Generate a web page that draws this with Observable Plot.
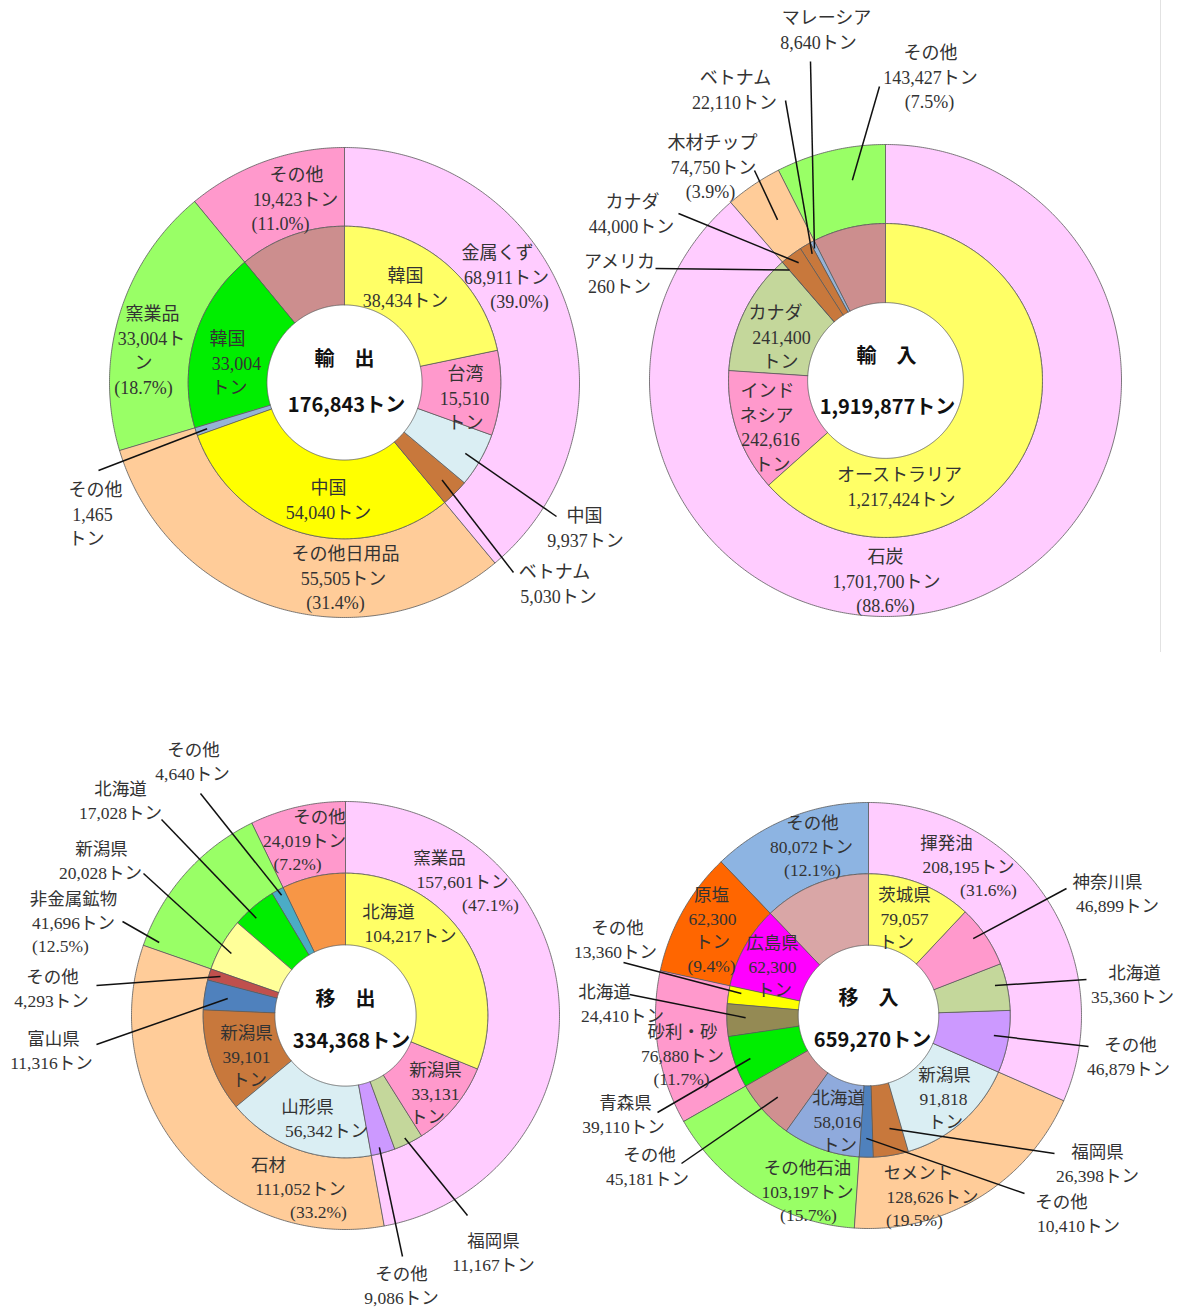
<!DOCTYPE html>
<html lang="ja">
<head>
<meta charset="utf-8">
<title>輸出・輸入・移出・移入</title>
<script src="https://cdn.jsdelivr.net/npm/d3@7"></script>
<script src="https://cdn.jsdelivr.net/npm/@observablehq/plot@0.6"></script>
<style>
  html, body { margin: 0; padding: 0; background: #fff; }
  #page { position: relative; width: 1182px; height: 1310px; overflow: hidden; background: #fff; }
  #page > svg { position: absolute; left: 0; top: 0; }
  #edge { position: absolute; left: 1160px; top: 0; width: 0; height: 652px; border-left: 1px solid #e2e2e2; }
</style>
</head>
<body>
<div id="page"><div id="edge"></div></div>
<script>
// ================= DATA =================
// 輸出
const exportTitle = "輸　出";
const exportTotal = 176843;
const exportGoods = ["金属くず", "その他日用品", "窯業品", "その他"];
const exportGoodsTons = [68911, 55505, 33004, 19423];
const exportGoodsShare = ["39.0%", "31.4%", "18.7%", "11.0%"];
const exportDest = ["韓国", "台湾", "中国", "ベトナム", "中国", "その他", "韓国", "その他"];
const exportDestTons = [38434, 15510, 9937, 5030, 54040, 1465, 33004, 19423];

// 輸入
const importTitle = "輸　入";
const importTotal = 1919877;
const importGoods = ["石炭", "木材チップ", "その他"];
const importGoodsTons = [1701700, 74750, 143427];
const importGoodsShare = ["88.6%", "3.9%", "7.5%"];
const importOrigin = ["オーストラリア", "インドネシア", "カナダ", "アメリカ", "カナダ", "ベトナム", "マレーシア", "その他"];
const importOriginTons = [1217424, 242616, 241400, 260, 44000, 22110, 8640, 143427];

// 移出
const outTitle = "移　出";
const outTotal = 334368;
const outGoods = ["窯業品", "石材", "非金属鉱物", "その他"];
const outGoodsTons = [157601, 111052, 41696, 24019];
const outGoodsShare = ["47.1%", "33.2%", "12.5%", "7.2%"];
const outDest = ["北海道", "新潟県", "福岡県", "その他", "山形県", "新潟県", "富山県", "その他", "新潟県", "北海道", "その他", "その他"];
const outDestTons = [104217, 33131, 11167, 9086, 56342, 39101, 11316, 4293, 20028, 17028, 4640, 24019];

// 移入
const inTitle = "移　入";
const inTotal = 659270;
const inGoods = ["揮発油", "セメント", "その他石油", "砂利・砂", "原塩", "その他"];
const inGoodsTons = [208195, 128626, 103197, 76880, 62300, 80072];
const inGoodsShare = ["31.6%", "19.5%", "15.7%", "11.7%", "9.4%", "12.1%"];
const inOrigin = ["茨城県", "神奈川県", "北海道", "その他", "新潟県", "福岡県", "その他", "北海道", "その他", "青森県", "北海道", "その他", "広島県", "その他"];
const inOriginTons = [79057, 46899, 35360, 46879, 91818, 26398, 10410, 58016, 45181, 39110, 24410, 13360, 62300, 80072];

// ================= STYLE =================
const exportGoodsColors = ["#FFCCFF", "#FFCC99", "#99FF66", "#FF99CC"];
const exportDestColors = ["#FFFF66", "#FF99CC", "#DAEEF3", "#C8783C", "#FFFF00", "#95B3D7", "#00EE00", "#CC8E8E"];
const importGoodsColors = ["#FFCCFF", "#FFCC99", "#99FF66"];
const importOriginColors = ["#FFFF66", "#FF99CC", "#C4D79B", "#C8783C", "#C8783C", "#C8783C", "#95B3D7", "#CC8E8E"];
const outGoodsColors = ["#FFCCFF", "#FFCC99", "#99FF66", "#FF99CC"];
const outDestColors = ["#FFFF66", "#FF99CC", "#C4D79B", "#CC99FF", "#DAEEF3", "#C8783C", "#4F81BD", "#C0504D", "#FFFF99", "#00EE00", "#4BACC6", "#F79646"];
const inGoodsColors = ["#FFCCFF", "#FFCC99", "#99FF66", "#FF99CC", "#FF6600", "#8DB4E2"];
const inOriginColors = ["#FFFF66", "#FF99CC", "#C4D79B", "#CC99FF", "#DAEEF3", "#C8783C", "#4F81BD", "#8FAADC", "#D09090", "#00EE00", "#948A54", "#FFFF00", "#FF00FF", "#D9A6A6"];

const PAGE_W = 1182, PAGE_H = 1310;
const RING = {hole: 0.33, mid: 0.665, outer: 1};
const UNIT = "トン";
const fmt = d3.format(",");
const LABEL_FONT = "'Liberation Serif', 'Noto Sans CJK JP', serif";
const TITLE_FONT = "'Noto Sans CJK JP', 'Noto Sans', sans-serif";

// ================= LAYOUT (pixel offsets from each donut centre) =================
const exportLayout = {
  cx: 344, cy: 382, R: 235, lh: 24.5, fs: 18, title: [-23, 23], titleX: [0, 2],
  labels: [
    {seg: "o0", fmt: "n|t|p", y: -129, x: [153, 162, 175]},
    {seg: "o1", fmt: "n|t|p", y: 172, x: [1, -1, -9]},
    {seg: "o2", fmt: "n|t-|u-|p", y: -68, x: [-192, -193, -201, -201]},
    {seg: "o3", fmt: "n|t|p", y: -207, x: [-48, -49, -64]},
    {seg: "i0", fmt: "n|t", y: -106, x: [61, 61]},
    {seg: "i1", fmt: "n|v|u", y: -8, x: [121, 120, 121]},
    {seg: "i2", fmt: "n|t", y: 134, x: [240, 241], from: [212, 134], to: {r: 0.596, a: 120.4}},
    {seg: "i3", fmt: "n|t", y: 190, x: [210, 214], from: [169, 190], to: {r: 0.587, a: 135}},
    {seg: "i4", fmt: "n|t", y: 106, x: [-16, -16]},
    {seg: "i5", fmt: "n|v|u", y: 108, x: [-249, -252, -258], from: [-246, 88], to: {r: 0.617, a: 251.4}},
    {seg: "i6", fmt: "n|v|u", y: -43, x: [-117, -108, -115]}
  ]
};
const importLayout = {
  cx: 885, cy: 380, R: 236, lh: 24.5, fs: 18, title: [-24, 27], titleX: [1, 2],
  labels: [
    {seg: "o0", fmt: "n|t|p", y: 177, x: [0, 1, 0]},
    {seg: "o1", fmt: "n|t|p", y: -237, x: [-173, -172, -175], from: [-131, -210], to: {r: 0.82, a: 326.1}},
    {seg: "o2", fmt: "n|t|p", y: -327, x: [45, 45, 44], from: [-6, -294], to: {r: 0.86, a: 350.6}},
    {seg: "i0", fmt: "n|t", y: 95, x: [14, 16]},
    {seg: "i1", fmt: "n<3|n>3|v|u", y: 11, x: [-118, -119, -115, -113]},
    {seg: "i2", fmt: "n|v|u", y: -67, x: [-110, -104, -105]},
    {seg: "i3", fmt: "n|t", y: -118, x: [-266, -266], from: [-230, -112], to: {r: 0.62, a: 319}},
    {seg: "i4", fmt: "n|t", y: -178, x: [-253, -254], from: [-207, -167], to: {r: 0.62, a: 323.6}},
    {seg: "i5", fmt: "n|t", y: -302, x: [-150, -151], from: [-100, -280], to: {r: 0.62, a: 329.9}},
    {seg: "i6", fmt: "n|t", y: -362, x: [-59, -67], from: [-75, -319], to: {r: 0.635, a: 331.7}}
  ]
};
const outLayout = {
  cx: 345, cy: 1015, R: 214, lh: 23.5, fs: 17.5, title: [-16, 26], titleX: [0, 6],
  labels: [
    {seg: "o0", fmt: "n|t|p", y: -157, x: [94, 117, 145]},
    {seg: "o1", fmt: "n|t|p", y: 150, x: [-77, -45, -27]},
    {seg: "o2", fmt: "n|t|p", y: -116, x: [-272, -272, -285], from: [-223, -94], to: {r: 0.935, a: 291.4}},
    {seg: "o3", fmt: "n|t|p", y: -198, x: [-26, -41, -48]},
    {seg: "i0", fmt: "n|t", y: -103, x: [43, 65]},
    {seg: "i1", fmt: "n|v|u", y: 55, x: [90, 90, 82]},
    {seg: "i2", fmt: "n|t", y: 226, x: [148, 148], from: [122, 200], to: {r: 0.636, a: 154.2}},
    {seg: "i3", fmt: "n|t", y: 259, x: [56, 56], from: [57, 241], to: {r: 0.636, a: 165.6}},
    {seg: "i4", fmt: "n|t", y: 92, x: [-38, -19]},
    {seg: "i5", fmt: "n|v|u", y: 18, x: [-99, -99, -96]},
    {seg: "i6", fmt: "n|t", y: 24, x: [-292, -294], from: [-249, 29], to: {r: 0.556, a: 278.2}},
    {seg: "i7", fmt: "n|t", y: -38, x: [-293, -294], from: [-249, -30], to: {r: 0.612, a: 287.3}},
    {seg: "i8", fmt: "n|t", y: -166, x: [-244, -245], from: [-202, -142], to: {r: 0.607, a: 298.5}},
    {seg: "i9", fmt: "n|t", y: -226, x: [-225, -225], from: [-184, -196], to: {r: 0.617, a: 317.5}},
    {seg: "i10", fmt: "n|t", y: -265, x: [-152, -153], from: [-145, -222], to: {r: 0.636, a: 332}}
  ]
};
const inLayout = {
  cx: 868, cy: 1015, R: 213, lh: 23.5, fs: 17.5, title: [-17, 25], titleX: [0, 4],
  labels: [
    {seg: "o0", fmt: "n|t|p", y: -172, x: [78, 100, 120]},
    {seg: "o1", fmt: "n|t|p", y: 158, x: [50, 64, 46]},
    {seg: "o2", fmt: "n|t|p", y: 153, x: [-61, -61, -60]},
    {seg: "o3", fmt: "n|t|p", y: 17, x: [-186, -186, -187]},
    {seg: "o4", fmt: "n|v|u|p", y: -120, x: [-157, -156, -156, -157]},
    {seg: "o5", fmt: "n|t|p", y: -192, x: [-56, -57, -56]},
    {seg: "i0", fmt: "n|v|u", y: -120, x: [36, 36, 28]},
    {seg: "i1", fmt: "n|t", y: -133, x: [239, 249], from: [198, -127], to: {r: 0.61, a: 53.7}},
    {seg: "i2", fmt: "n|t", y: -42, x: [266, 264], from: [218, -36], to: {r: 0.61, a: 76.7}},
    {seg: "i3", fmt: "n|t", y: 30, x: [262, 260], from: [220, 31], to: {r: 0.596, a: 99.1}},
    {seg: "i4", fmt: "n|v|u", y: 60, x: [76, 75, 77]},
    {seg: "i5", fmt: "n|t", y: 137, x: [229, 229], from: [186, 138], to: {r: 0.54, a: 169.5}},
    {seg: "i6", fmt: "n|t", y: 187, x: [193, 210], from: [156, 178], to: {r: 0.577, a: 181}},
    {seg: "i7", fmt: "n|v|u", y: 83, x: [-30, -31, -29]},
    {seg: "i8", fmt: "n|t", y: 140, x: [-219, -221], from: [-187, 148], to: {r: 0.573, a: 228}},
    {seg: "i9", fmt: "n|t", y: 88, x: [-243, -245], from: [-211, 97], to: {r: 0.59, a: 250}},
    {seg: "i10", fmt: "n|t", y: -23, x: [-264, -246], from: [-239, -21], to: {r: 0.577, a: 269}},
    {seg: "i11", fmt: "n|t", y: -87, x: [-251, -253], from: [-245, -53], to: {r: 0.606, a: 279.8}},
    {seg: "i12", fmt: "n|v|u", y: -72, x: [-96, -96, -94]}
  ]
};

// ================= BUILD =================
function arcs(values, colors, r0, r1, ring) {
  const total = d3.sum(values);
  let acc = 0;
  return values.map((v, i) => {
    const a0 = acc / total * 360; acc += v; const a1 = acc / total * 360;
    return {id: ring + i, a0, a1, mid: (a0 + a1) / 2, r0, r1, color: colors[i]};
  });
}
function polygon(s) {
  const pts = [];
  const n = Math.max(2, Math.ceil((s.a1 - s.a0) / 0.5));
  for (let k = 0; k <= n; k++) {
    const a = (s.a0 + (s.a1 - s.a0) * k / n) * Math.PI / 180;
    pts.push({id: s.id, fill: s.color, x: s.r1 * Math.sin(a), y: s.r1 * Math.cos(a)});
  }
  for (let k = n; k >= 0; k--) {
    const a = (s.a0 + (s.a1 - s.a0) * k / n) * Math.PI / 180;
    pts.push({id: s.id, fill: s.color, x: s.r0 * Math.sin(a), y: s.r0 * Math.cos(a)});
  }
  return pts;
}
function token(tk, name, value, share) {
  const withUnit = fmt(value) + UNIT;
  if (tk === "n") return name;
  if (tk.startsWith("n<")) return name.slice(0, +tk.slice(2));
  if (tk.startsWith("n>")) return name.slice(+tk.slice(2));
  if (tk === "t") return withUnit;
  if (tk === "t-") return withUnit.slice(0, -1);
  if (tk === "u-") return UNIT.slice(-1);
  if (tk === "v") return fmt(value);
  if (tk === "u") return UNIT;
  if (tk === "p") return "(" + share + ")";
  return "";
}

function donut(d, L) {
  const segs = {
    o: arcs(d.goodsTons, d.goodsColors, RING.mid, RING.outer, "o"),
    i: arcs(d.partTons, d.partColors, RING.hole, RING.mid, "i")
  };
  const names = {o: d.goods, i: d.parts};
  const tons = {o: d.goodsTons, i: d.partTons};
  const shares = {o: d.goodsShare, i: []};
  const polys = [...segs.o, ...segs.i].flatMap(polygon);
  const textRows = [], leaders = [];
  for (const lab of L.labels) {
    const ring = lab.seg[0], idx = +lab.seg.slice(1);
    lab.fmt.split("|").forEach((tk, k) => {
      textRows.push({
        x: lab.x[k] / L.R,
        y: -(lab.y + k * L.lh) / L.R,
        text: token(tk, names[ring][idx], tons[ring][idx], shares[ring][idx])
      });
    });
    if (lab.from) {
      const s = segs[ring][idx];
      const a = (lab.to.a ?? s.mid) * Math.PI / 180;
      leaders.push({x1: lab.from[0] / L.R, y1: -lab.from[1] / L.R, x2: lab.to.r * Math.sin(a), y2: lab.to.r * Math.cos(a)});
    }
  }
  const centre = [
    {x: L.titleX[0] / L.R, y: -L.title[0] / L.R, text: d.title},
    {x: L.titleX[1] / L.R, y: -L.title[1] / L.R, text: fmt(d.total) + UNIT}
  ];
  return Plot.plot({
    width: PAGE_W, height: PAGE_H, margin: 0,
    x: {domain: [-L.cx / L.R, (PAGE_W - L.cx) / L.R], axis: null},
    y: {domain: [-(PAGE_H - L.cy) / L.R, L.cy / L.R], axis: null},
    color: {type: "identity"},
    style: {background: "transparent", overflow: "visible"},
    marks: [
      Plot.line(polys, {x: "x", y: "y", z: "id", fill: "fill", stroke: "#5a5a5a", strokeWidth: 0.8, curve: "linear-closed"}),
      Plot.link(leaders, {x1: "x1", y1: "y1", x2: "x2", y2: "y2", stroke: "#111", strokeWidth: 1.5}),
      Plot.text(textRows, {x: "x", y: "y", text: "text", fontSize: L.fs, fontFamily: LABEL_FONT, fill: "#333", textAnchor: "middle"}),
      Plot.text(centre, {x: "x", y: "y", text: "text", fontSize: 20, fontWeight: "bold", fontFamily: TITLE_FONT, fill: "#111", textAnchor: "middle"})
    ]
  });
}

const page = document.getElementById("page");
const charts = [
  [{title: exportTitle, total: exportTotal, goods: exportGoods, goodsTons: exportGoodsTons, goodsShare: exportGoodsShare, goodsColors: exportGoodsColors, parts: exportDest, partTons: exportDestTons, partColors: exportDestColors}, exportLayout],
  [{title: importTitle, total: importTotal, goods: importGoods, goodsTons: importGoodsTons, goodsShare: importGoodsShare, goodsColors: importGoodsColors, parts: importOrigin, partTons: importOriginTons, partColors: importOriginColors}, importLayout],
  [{title: outTitle, total: outTotal, goods: outGoods, goodsTons: outGoodsTons, goodsShare: outGoodsShare, goodsColors: outGoodsColors, parts: outDest, partTons: outDestTons, partColors: outDestColors}, outLayout],
  [{title: inTitle, total: inTotal, goods: inGoods, goodsTons: inGoodsTons, goodsShare: inGoodsShare, goodsColors: inGoodsColors, parts: inOrigin, partTons: inOriginTons, partColors: inOriginColors}, inLayout]
];
for (const [d, L] of charts) page.appendChild(donut(d, L));
</script>
</body>
</html>
